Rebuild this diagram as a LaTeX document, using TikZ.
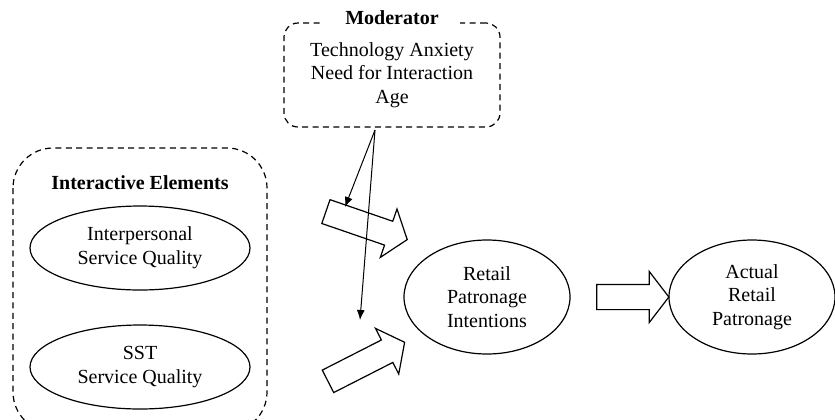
\documentclass[tikz,border=0pt]{standalone}
\usepackage{fontspec}
\setmainfont{Liberation Serif}
\usetikzlibrary{shapes.geometric, shapes.arrows, arrows.meta}

\begin{document}
\begin{tikzpicture}[x=0.5pt, y=-0.5pt, font=\fontsize{10}{11.8}\selectfont,
    construct/.style={ellipse, draw, line width=0.6pt, inner sep=0pt, minimum width=110pt, minimum height=42pt, align=center},
    outcome/.style={ellipse, draw, line width=0.6pt, inner sep=0pt, minimum width=83pt, minimum height=57pt, align=center},
    blockarrow/.style={single arrow, draw, line width=0.6pt, inner xsep=0pt, inner ysep=6pt, single arrow head extend=6.5pt, single arrow tip angle=105, minimum height=43pt},
    groupbox/.style={draw, dash pattern=on 3pt off 2.2pt, line width=0.6pt},
    effect/.style={-{Latex[length=5pt,width=4pt]}, line width=0.5pt},
    heading/.style={font=\fontsize{10}{11.8}\selectfont\bfseries}]
    \clip (0,0) rectangle (835,419);
    \draw[groupbox, rounded corners=20pt] (13,148) rectangle (267,432);
    \node[heading] (inter) at (140,183) {Interactive Elements};
    \node[construct] (ipsq) at (140,248) {Interpersonal\\Service Quality};
    \node[construct] (sstsq) at (140,367) {SST\\Service Quality};
    \node[groupbox, rounded corners=7pt, inner sep=0pt, minimum width=108pt, minimum height=52pt, align=center] (mod) at (392,75) {Technology Anxiety\\Need for Interaction\\Age};
    \node[heading, fill=white, inner xsep=10.5pt, inner ysep=1pt] (modlabel) at (392,18) {Moderator};
    \node[outcome] (rpi) at (487,297) {Retail\\Patronage\\Intentions};
    \node[outcome] (arp) at (752,297) {Actual\\Retail\\Patronage};
    \node[blockarrow, rotate=-19] (upflow) at (362,224) {};
    \node[blockarrow, rotate=27] (downflow) at (362,364) {};
    \node[blockarrow, minimum height=36pt] (toactual) at (628,297) {};
    \coordinate (split) at (375,130);
    \coordinate (hitup) at (345,207);
    \coordinate (hitdown) at (360,320);
    \draw[effect] (split) -- (hitup);
    \draw[effect] (split) -- (hitdown);
\end{tikzpicture}
\end{document}
